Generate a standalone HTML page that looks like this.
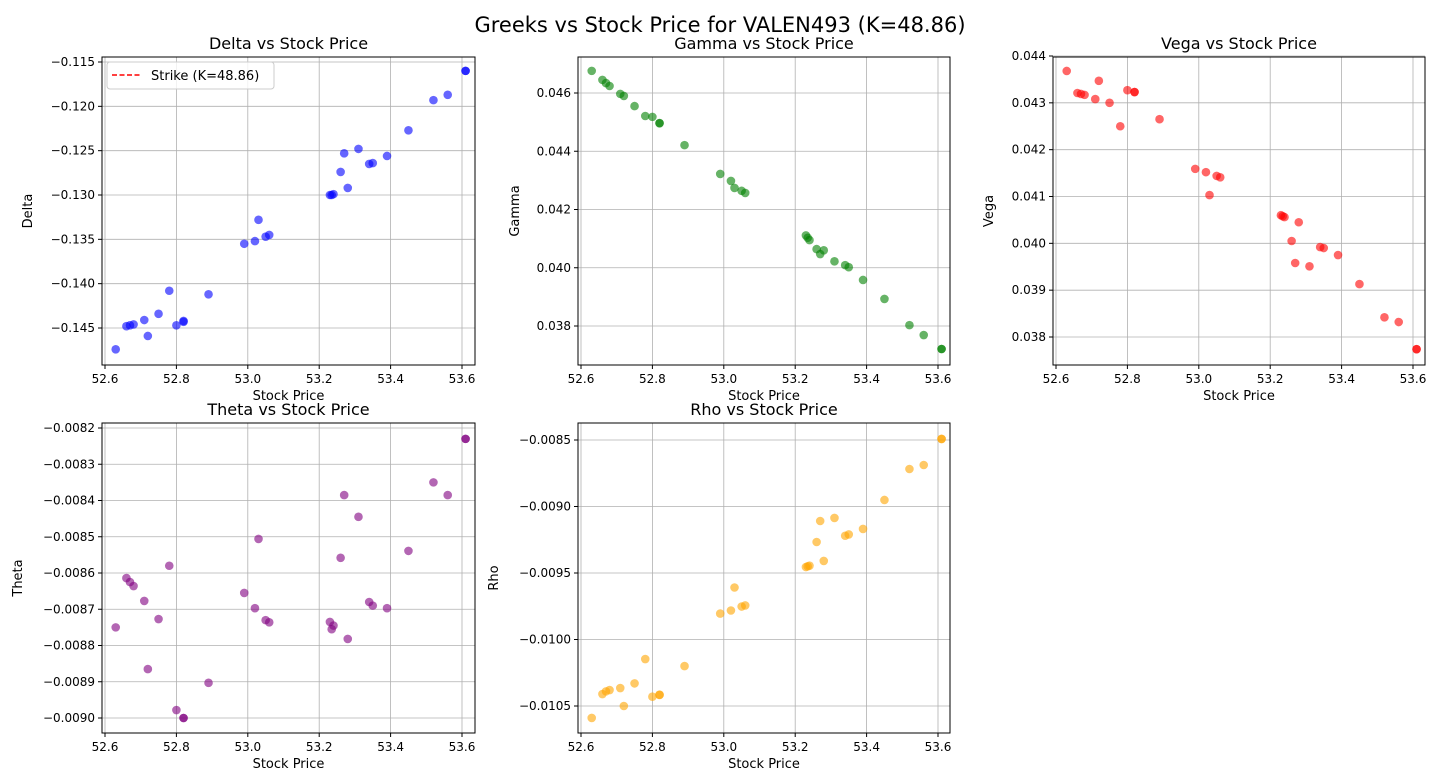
<!DOCTYPE html>
<html><head><meta charset="utf-8"><style>
body{margin:0;background:#fff;font-family:"Liberation Sans","DejaVu Sans",sans-serif;}
svg text{font-family:"DejaVu Sans","Liberation Sans",sans-serif;fill:#000;}
</style></head><body>
<svg id="c" width="1440" height="777" xmlns="http://www.w3.org/2000/svg">
<text x="720" y="32" font-size="21" text-anchor="middle">Greeks vs Stock Price for VALEN493 (K=48.86)</text>
</svg>
<script>
const prices=[52.63,52.66,52.67,52.68,52.71,52.72,52.75,52.78,52.80,52.82,52.82,52.89,52.99,53.02,53.03,53.05,53.06,53.23,53.235,53.24,53.26,53.27,53.28,53.31,53.34,53.35,53.39,53.45,53.52,53.56,53.61,53.61];
const delta=[-0.1474,-0.1448,-0.1447,-0.1446,-0.1441,-0.1459,-0.1434,-0.1408,-0.1447,-0.1443,-0.1442,-0.1412,-0.1355,-0.1352,-0.1328,-0.1347,-0.1345,-0.1300,-0.1300,-0.1299,-0.1274,-0.1253,-0.1292,-0.1248,-0.1265,-0.1264,-0.1256,-0.1227,-0.1193,-0.1187,-0.1160,-0.1160];
const gamma=[0.04676,0.04645,0.04634,0.04624,0.04597,0.0459,0.04555,0.04521,0.04518,0.04497,0.04496,0.04421,0.04322,0.04298,0.04274,0.04264,0.04257,0.04111,0.04103,0.04095,0.04064,0.04047,0.0406,0.04022,0.04009,0.04002,0.03958,0.03893,0.03803,0.03769,0.03721,0.03721];
const vega=[0.04368,0.04321,0.04319,0.04317,0.04308,0.04347,0.043,0.0425,0.04327,0.04323,0.04323,0.04265,0.04159,0.04152,0.04103,0.04144,0.04141,0.0406,0.04058,0.04056,0.04005,0.03958,0.04045,0.03951,0.03992,0.0399,0.03975,0.03913,0.03842,0.03832,0.03774,0.03774];
const theta=[-0.00875,-0.008614,-0.008625,-0.008636,-0.008677,-0.008865,-0.008727,-0.00858,-0.008978,-0.009,-0.009,-0.008903,-0.008655,-0.008697,-0.008506,-0.00873,-0.008736,-0.008735,-0.008755,-0.008745,-0.008558,-0.008385,-0.008782,-0.008445,-0.00868,-0.00869,-0.008697,-0.008539,-0.00835,-0.008385,-0.00823,-0.00823];
const rho=[-0.01059,-0.01041,-0.01039,-0.01038,-0.010365,-0.0105,-0.01033,-0.010147,-0.01043,-0.010417,-0.010415,-0.0102,-0.009805,-0.009782,-0.009609,-0.009752,-0.009744,-0.009455,-0.00945,-0.009445,-0.009267,-0.009109,-0.009409,-0.009086,-0.00922,-0.00921,-0.009169,-0.008951,-0.008718,-0.008688,-0.008492,-0.008492];
const xTicks=[52.6,52.8,53.0,53.2,53.4,53.6];
const deltaTicks=[-0.115,-0.120,-0.125,-0.130,-0.135,-0.140,-0.145];
const gammaTicks=[0.046,0.044,0.042,0.040,0.038];
const vegaTicks=[0.044,0.043,0.042,0.041,0.040,0.039,0.038];
const thetaTicks=[-0.0082,-0.0083,-0.0084,-0.0085,-0.0086,-0.0087,-0.0088,-0.0089,-0.0090];
const rhoTicks=[-0.0085,-0.0090,-0.0095,-0.0100,-0.0105];

const NS="http://www.w3.org/2000/svg";const svg=document.getElementById('c');
function mk(t,a,p){const e=document.createElementNS(NS,t);for(const k in a)e.setAttribute(k,a[k]);(p||svg).appendChild(e);return e;}
function fmt(v,d){return (v<0?"\u2212":"")+Math.abs(v).toFixed(d);}
const panels=[
 {name:'delta',title:'Delta vs Stock Price',yl:'Delta',data:delta,ticks:deltaTicks,dec:3,col:'#0000ff',L:102,T:57,R:475,B:365,v0:-0.115,p0:62,v1:-0.145,p1:328,legend:true,yo:70},
 {name:'gamma',title:'Gamma vs Stock Price',yl:'Gamma',data:gamma,ticks:gammaTicks,dec:3,col:'#008000',L:578,T:57,R:950,B:365,v0:0.046,p0:93,v1:0.038,p1:326,yo:59},
 {name:'vega',title:'Vega vs Stock Price',yl:'Vega',data:vega,ticks:vegaTicks,dec:3,col:'#ff0000',L:1053,T:57,R:1425,B:365,v0:0.044,p0:56,v1:0.038,p1:337,yo:60},
 {name:'theta',title:'Theta vs Stock Price',yl:'Theta',data:theta,ticks:thetaTicks,dec:4,col:'#800080',L:102,T:423,R:475,B:733,v0:-0.0082,p0:428,v1:-0.0090,p1:718,yo:80},
 {name:'rho',title:'Rho vs Stock Price',yl:'Rho',data:rho,ticks:rhoTicks,dec:4,col:'#ffa500',L:578,T:423,R:950,B:733,v0:-0.0085,p0:440,v1:-0.0105,p1:706,yo:80}
];
panels.forEach(P=>{
 const g=mk('g',{});
 
 
 const xs=v=>P.L+3+(v-52.6)*357;
 const ys=v=>P.p0+(v-P.v0)/(P.v1-P.v0)*(P.p1-P.p0);
 xTicks.forEach(t=>{const x=xs(t);
  const l=mk('line',{x1:x,x2:x,y1:P.T,y2:P.B,stroke:'#b0b0b0','stroke-width':0.8},g);
  
  mk('line',{x1:x,x2:x,y1:P.B,y2:P.B+4,stroke:'#000'},g);
  const tx=mk('text',{x:x,y:P.B+18,'font-size':12,'text-anchor':'middle'},g);tx.textContent=t.toFixed(1);
  
 });
 P.ticks.forEach(t=>{const y=ys(t);
  const l=mk('line',{x1:P.L,x2:P.R,y1:y,y2:y,stroke:'#b0b0b0','stroke-width':0.8},g);
  
  mk('line',{x1:P.L-4,x2:P.L,y1:y,y2:y,stroke:'#000'},g);
  const tx=mk('text',{x:P.L-7,y:y+4,'font-size':12,'text-anchor':'end'},g);tx.textContent=fmt(t,P.dec);
  
 });
 prices.forEach((p,i)=>{
  const c=mk('circle',{cx:xs(p),cy:ys(P.data[i]),r:4.3,fill:P.col,'fill-opacity':0.6},g);
  
 });
 const fr=mk('rect',{x:P.L,y:P.T,width:P.R-P.L,height:P.B-P.T,fill:'none',stroke:'#000','stroke-width':1},g);
 
 const tt=mk('text',{x:(P.L+P.R)/2,y:P.T-8,'font-size':16,'text-anchor':'middle'},g);tt.textContent=P.title;
 
 const xl=mk('text',{x:(P.L+P.R)/2,y:P.B+35,'font-size':13,'text-anchor':'middle'},g);xl.textContent='Stock Price';
 
 const yx=P.L-P.yo,yy=(P.T+P.B)/2;
 const yl=mk('text',{x:yx,y:yy,'font-size':13,'text-anchor':'middle',transform:`rotate(-90 ${yx} ${yy})`},g);yl.textContent=P.yl;
 
 if(P.legend){
  const lg=mk('g',{},g);
  
  mk('rect',{x:107,y:62,width:167,height:27,rx:3,fill:'#fff','fill-opacity':0.8,stroke:'#ccc'},lg);
  mk('line',{x1:112,x2:140,y1:75,y2:75,stroke:'#ff0000','stroke-width':1.5,'stroke-dasharray':'5,2.5'},lg);
  const t=mk('text',{x:151,y:80,'font-size':13},lg);t.textContent='Strike (K=48.86)';
  
 }
});
</script>
</body></html>
